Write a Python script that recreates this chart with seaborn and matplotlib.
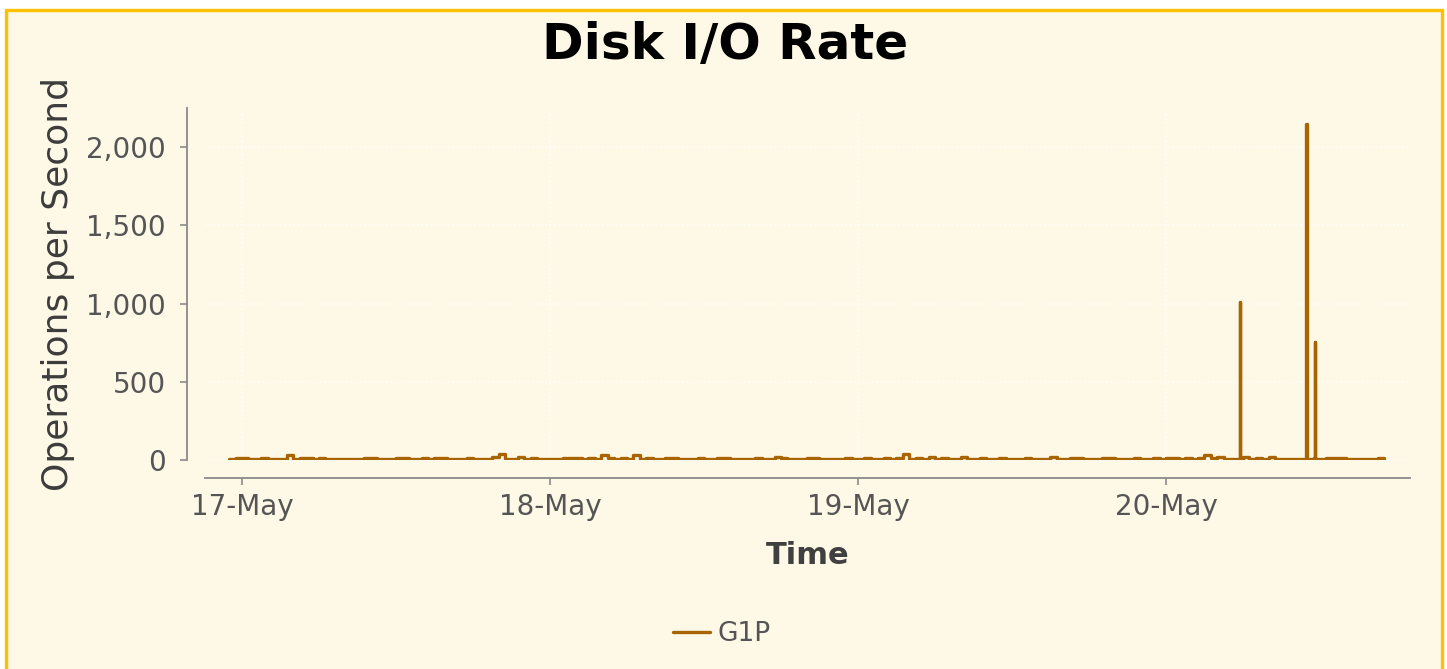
import matplotlib
matplotlib.use("Agg")
import matplotlib.pyplot as plt
import matplotlib.dates as mdates
from matplotlib.patches import Rectangle
from matplotlib.ticker import FuncFormatter
import numpy as np
import pandas as pd
import seaborn as sns

# ---- data -------------------------------------------------------------
server = "G1P"
series_start = "2019-05-16 23:00"
sample_step = "30min"

# half-hourly operations/second, 16-May 23:00 .. 20-May 17:00
ops_may16 = [4, 12]
ops_may17 = [12, 4, 4, 14, 4, 4, 6, 30, 4, 12, 12, 4, 14, 4, 4, 4,
             4, 4, 4, 12, 12, 4, 4, 4, 12, 12, 4, 4, 12, 4, 14, 14,
             4, 4, 4, 12, 4, 4, 4, 18, 38, 4, 4, 16, 4, 12, 4, 4]
ops_may18 = [4, 4, 12, 12, 12, 4, 14, 4, 30, 12, 4, 12, 4, 35, 4, 14,
             4, 4, 12, 12, 4, 4, 4, 12, 4, 4, 12, 12, 4, 4, 4, 4,
             12, 4, 4, 16, 12, 4, 4, 4, 12, 12, 4, 4, 4, 4, 12, 4]
ops_may19 = [4, 12, 4, 4, 12, 4, 14, 40, 4, 12, 4, 18, 4, 12, 4, 4,
             16, 4, 4, 14, 4, 4, 12, 4, 4, 4, 14, 4, 4, 4, 16, 4,
             4, 12, 12, 4, 4, 4, 14, 14, 4, 4, 4, 12, 4, 4, 12, 4]
ops_may20 = [12, 14, 4, 12, 4, 12, 30, 14, 18, 4, 4, 4, 20, 4, 12, 4,
             16, 4, 4, 4, 4, 4, 4, 14, 4, 12, 12, 12, 4, 4, 4, 4,
             4, 12, 4]

# short bursts on 20-May
burst_times = ["2019-05-20 05:46", "2019-05-20 10:56", "2019-05-20 11:35"]
burst_values = [1010, 2150, 752]
burst_floor = 4

y_ticks = [0, 500, 1000, 1500, 2000]
x_ticks = ["2019-05-17", "2019-05-18", "2019-05-19", "2019-05-20"]

# ---- assemble the series ---------------------------------------------
base_vals = ops_may16 + ops_may17 + ops_may18 + ops_may19 + ops_may20
base = pd.DataFrame({
    "time": pd.date_range(series_start, periods=len(base_vals), freq=sample_step),
    "ops": base_vals,
})
bt = pd.to_datetime(burst_times)
edge = pd.Timedelta(minutes=2)
bursts = pd.DataFrame({
    "time": list(bt - edge) + list(bt) + list(bt + edge),
    "ops": [burst_floor] * len(bt) + burst_values + [burst_floor] * len(bt),
})
df = pd.concat([base, bursts]).sort_values("time").reset_index(drop=True)
df["server"] = server

# ---- style ------------------------------------------------------------
sns.set_theme(style="ticks")
plt.rcParams["font.family"] = ["DejaVu Sans"]

W, H = 1447, 669
fig = plt.figure(figsize=(W / 100, H / 100), dpi=100, facecolor="white")

# cream panel with gold frame
fig.patches.append(Rectangle((5.5 / W, -0.05), (1441.5 - 5.5) / W, 659.5 / H + 0.05,
                             transform=fig.transFigure, facecolor="#FEF8E6",
                             edgecolor="#FFC000", linewidth=2.4, zorder=-10))

ax = fig.add_axes([205 / W, (H - 460) / H, (1410 - 205) / W, (460 - 108) / H])
ax.set_facecolor("none")

line_color = "#A86400"
sns.lineplot(data=df, x="time", y="ops", hue="server", palette=[line_color],
             linewidth=2.4, drawstyle="steps-post", ax=ax, legend=True)

ax.set_ylim(0, 2250)
ax.set_xlim(pd.Timestamp("2019-05-16 21:07"), pd.Timestamp("2019-05-20 19:01"))

ax.set_yticks(y_ticks)
ax.yaxis.set_major_formatter(FuncFormatter(lambda v, p: f"{int(v):,}"))
ax.set_xticks(pd.to_datetime(x_ticks))
ax.xaxis.set_major_formatter(mdates.DateFormatter("%d-%b"))

ax.grid(True, color="white", linestyle=":", linewidth=1.2, alpha=0.8)

sns.despine(ax=ax, offset={"left": 13, "bottom": 13})
for s in ("left", "bottom"):
    ax.spines[s].set_color("#8A8A8A")
    ax.spines[s].set_linewidth(1.3)
ax.spines["left"].set_bounds(0, 2250)

ax.tick_params(axis="both", colors="#8A8A8A", length=5, width=1.2,
               labelsize=20, labelcolor="#555555")
ax.tick_params(axis="y", pad=10)
ax.tick_params(axis="x", pad=6)

ax.set_xlabel("Time", fontsize=22, fontweight="bold", color="#404040", labelpad=14)
ax.set_ylabel("Operations per Second", fontsize=26, color="#3C3C3C", labelpad=8)

fig.text(725 / W, 1 - 45 / H, "Disk I/O Rate", ha="center", va="center",
         fontsize=36, fontweight="bold", color="black")

sns.move_legend(ax, "center", bbox_to_anchor=(722 / W, 1 - 634 / H),
                bbox_transform=fig.transFigure, title=None, frameon=False,
                fontsize=19, handlelength=1.4, handletextpad=0.3,
                labelcolor="#555555")

fig.savefig("out.png", dpi=100, facecolor=fig.get_facecolor())
